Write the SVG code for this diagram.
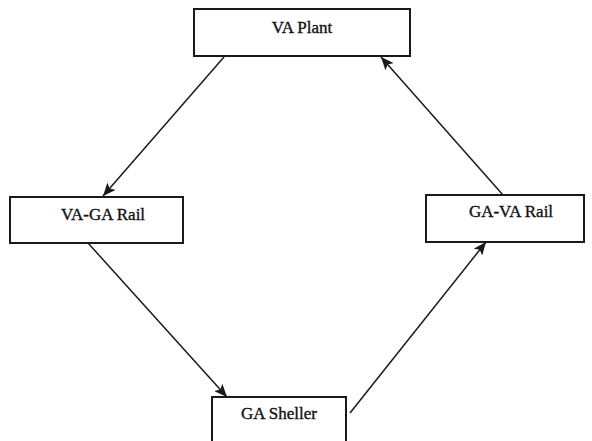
<svg xmlns="http://www.w3.org/2000/svg" width="592" height="441" viewBox="0 0 592 441">
<style>
.box{fill:#fff;stroke:#1a1a1a;stroke-width:2}
.lbl{font-family:"Liberation Serif",serif;font-size:17px;fill:#111;stroke:#111;stroke-width:0.35;text-anchor:middle}
.edge{stroke:#1a1a1a;stroke-width:1.5;fill:none;marker-end:url(#ah)}
</style>
<defs>
<marker id="ah" viewBox="0 0 13 11" refX="13" refY="5.5" markerWidth="13" markerHeight="11" markerUnits="userSpaceOnUse" orient="auto">
<path d="M0,0 L13,5.5 L0,11 L3,5.5 Z" fill="#1a1a1a"/>
</marker>
</defs>
<rect width="592" height="441" fill="#fff"/>
<g id="connectors">
<line class="edge" x1="224" y1="57" x2="103" y2="196"/>
<line class="edge" x1="503" y1="195" x2="381" y2="57"/>
<line class="edge" x1="88" y1="243" x2="227" y2="397"/>
<line class="edge" x1="350" y1="413" x2="486" y2="242"/>
</g>
<g id="va-plant">
<rect class="box" x="194" y="9" width="216" height="47"/>
<text class="lbl" x="302" y="33">VA Plant</text>
</g>
<g id="va-ga-rail">
<rect class="box" x="10" y="197" width="173" height="46"/>
<text class="lbl" x="103" y="220">VA-GA Rail</text>
</g>
<g id="ga-va-rail">
<rect class="box" x="426" y="195" width="158" height="47"/>
<text class="lbl" x="511" y="217">GA-VA Rail</text>
</g>
<g id="ga-sheller">
<rect class="box" x="212" y="397" width="134" height="50"/>
<text class="lbl" x="279" y="419">GA Sheller</text>
</g>
</svg>
